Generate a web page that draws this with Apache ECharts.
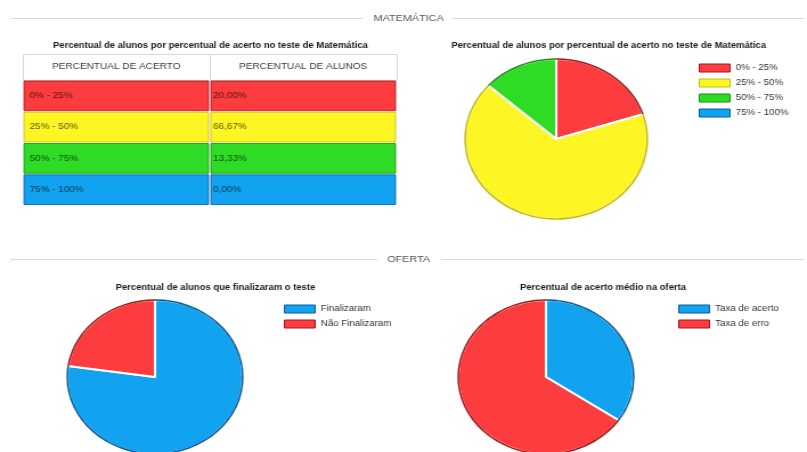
<!DOCTYPE html>
<html><head><meta charset="utf-8">
<script src="https://cdn.jsdelivr.net/npm/echarts@6/dist/echarts.min.js"></script>
<style>
html,body{margin:0;padding:0;background:#fff;overflow:hidden;width:807px;height:452px}
#chart{width:708px;height:452px;transform:scaleX(1.1398);transform-origin:0 0}
</style>
</head><body><div id="chart"></div>
<script>
// ---- data ----
const secoes = ['MATEMÁTICA', 'OFERTA'];
const tituloTabela = 'Percentual de alunos por percentual de acerto no teste de Matemática';
const cabecalhoTabela = ['PERCENTUAL DE ACERTO', 'PERCENTUAL DE ALUNOS'];
const faixasAcerto = ['0% - 25%', '25% - 50%', '50% - 75%', '75% - 100%'];
const percentualAlunos = [20.00, 66.67, 13.33, 0.00];
const tituloPizzaMat = 'Percentual de alunos por percentual de acerto no teste de Matemática';
const tituloFinalizacao = 'Percentual de alunos que finalizaram o teste';
const categoriasFinalizacao = ['Finalizaram', 'Não Finalizaram'];
const valoresFinalizacao = [77.3, 22.7];
const tituloAcerto = 'Percentual de acerto médio na oferta';
const categoriasAcerto = ['Taxa de acerto', 'Taxa de erro'];
const valoresAcerto = [34.5, 65.5];

// ---- styles ----
const COR = {red:'#fc3c3f', yellow:'#fdf524', green:'#2edb25', blue:'#11a3ef'};
const BORDA = {red:'#a01818', yellow:'#c4bb12', green:'#179010', blue:'#0b5a9a'};
const coresFaixas = ['red','yellow','green','blue'];
const coresFinalizacao = ['blue','red'];
const coresAcerto = ['blue','red'];
const FONT = '"Liberation Sans", Arial, sans-serif';

const fmt = v => v.toFixed(2).replace('.', ',') + '%';

function pie(center, r, names, values, cores) {
  return [{
    type:'pie', center, radius:[0, r], startAngle:90, clockwise:true, silent:true,
    label:{show:false}, labelLine:{show:false},
    itemStyle:{borderColor:'#fff', borderWidth:2},
    data: names.map((n,i)=>({name:n, value:values[i], itemStyle:{color:COR[cores[i]]}}))
  },{
    type:'pie', center, radius:[r-0.8, r+0.7], startAngle:90, clockwise:true, silent:true, z:3,
    label:{show:false}, labelLine:{show:false},
    itemStyle:{borderWidth:0},
    data: names.map((n,i)=>({name:n, value:values[i], itemStyle:{color:BORDA[cores[i]]}}))
  }];
}
function legend(left, top, names, cores) {
  return {
    orient:'vertical', left, top, itemWidth:27, itemHeight:8, itemGap:5, icon:'rect', padding:0,
    selectedMode:false,
    textStyle:{fontFamily:FONT, fontSize:8.5, color:'#333', lineHeight:10},
    data: names.map((n,i)=>({name:n, itemStyle:{color:COR[cores[i]], borderColor:BORDA[cores[i]], borderWidth:1}}))
  };
}
function titulo(text, x, top) {
  return {text, left:x, top, textAlign:'center', padding:0,
    textStyle:{fontFamily:FONT, fontSize:8.3, fontWeight:'bold', color:'#1a1a1a', lineHeight:10}};
}

const chart = echarts.init(document.getElementById('chart'), null, {renderer:'canvas'});

const option = {
  animation:false,
  backgroundColor:'#fff',
  title:[
    titulo(tituloTabela, 184.6, 41),
    titulo(tituloPizzaMat, 534, 41),
    titulo(tituloFinalizacao, 189, 283),
    titulo(tituloAcerto, 529, 283)
  ],
  legend:[
    legend(613, 63, faixasAcerto, coresFaixas),
    legend(249, 304, categoriasFinalizacao, coresFinalizacao),
    legend(595, 304, categoriasAcerto, coresAcerto)
  ],
  grid:[
    {left:20, top:54, width:328, height:26},
    {left:20, top:80, width:328, height:125}
  ],
  xAxis:[
    {type:'category', gridIndex:0, data:cabecalhoTabela, show:false},
    {type:'category', gridIndex:1, data:cabecalhoTabela, show:false}
  ],
  yAxis:[
    {type:'category', gridIndex:0, data:['h'], show:false, inverse:true},
    {type:'category', gridIndex:1, data:faixasAcerto, show:false, inverse:true}
  ],
  graphic:[
    {type:'line', shape:{x1:9, y1:18.5, x2:318, y2:18.5}, style:{stroke:'#dcdcdc', lineWidth:1}},
    {type:'line', shape:{x1:397, y1:18.5, x2:706, y2:18.5}, style:{stroke:'#dcdcdc', lineWidth:1}},
    {type:'text', x:358.5, y:18.5, style:{text:secoes[0], font:'9.5px '+FONT, fill:'#555', align:'center', verticalAlign:'middle'}},
    {type:'line', shape:{x1:9, y1:259.5, x2:331, y2:259.5}, style:{stroke:'#dcdcdc', lineWidth:1}},
    {type:'line', shape:{x1:387, y1:259.5, x2:706, y2:259.5}, style:{stroke:'#dcdcdc', lineWidth:1}},
    {type:'text', x:358.5, y:259, style:{text:secoes[1], font:'9.5px '+FONT, fill:'#555', align:'center', verticalAlign:'middle'}}
  ],
  series:[
    {
      type:'custom', xAxisIndex:0, yAxisIndex:0, silent:true,
      data: cabecalhoTabela.map((t,i)=>[i,0]),
      renderItem:(params, api)=>{
        const c = api.coord([api.value(0), api.value(1)]);
        const s = api.size([1,1]);
        const x0 = Math.round(c[0]-s[0]/2)+0.5, y0 = Math.round(c[1]-s[1]/2)+0.5;
        return {type:'group', children:[
          {type:'rect', shape:{x:x0, y:y0, width:Math.round(s[0]), height:Math.round(s[1])},
           style:{fill:'#fff', stroke:'#d8d8d8', lineWidth:1}},
          {type:'text', x:c[0], y:c[1], style:{text:cabecalhoTabela[params.dataIndex], font:'8.8px '+FONT,
            fill:'#3a3a3a', align:'center', verticalAlign:'middle'}}
        ]};
      }
    },
    {
      type:'custom', xAxisIndex:1, yAxisIndex:1, silent:true,
      data: faixasAcerto.flatMap((f,r)=>[[0,r],[1,r]]),
      renderItem:(params, api)=>{
        const col = api.value(0), row = api.value(1);
        const c = api.coord([col, row]);
        const s = api.size([1,1]);
        const x0 = c[0]-s[0]/2, y0 = c[1]-s[1]/2;
        const txt = col === 0 ? faixasAcerto[row] : fmt(percentualAlunos[row]);
        const pad = col === 0 ? 6 : 3;
        return {type:'group', children:[
          {type:'rect', shape:{x:x0+1, y:y0+1, width:s[0]-2, height:s[1]-1.5},
           style:{fill:COR[coresFaixas[row]], stroke:BORDA[coresFaixas[row]], lineWidth:0.8}},
          {type:'text', x:x0+pad, y:c[1], style:{text:txt, font:'8.7px '+FONT,
            fill:'rgba(0,0,0,0.66)', align:'left', verticalAlign:'middle'}}
        ]};
      }
    },
    ...pie([488, 139], 80, faixasAcerto, percentualAlunos, coresFaixas),
    ...pie([136, 377], 77, categoriasFinalizacao, valoresFinalizacao, coresFinalizacao),
    ...pie([479, 377], 77, categoriasAcerto, valoresAcerto, coresAcerto)
  ]
};
chart.setOption(option);
</script>
</body></html>
